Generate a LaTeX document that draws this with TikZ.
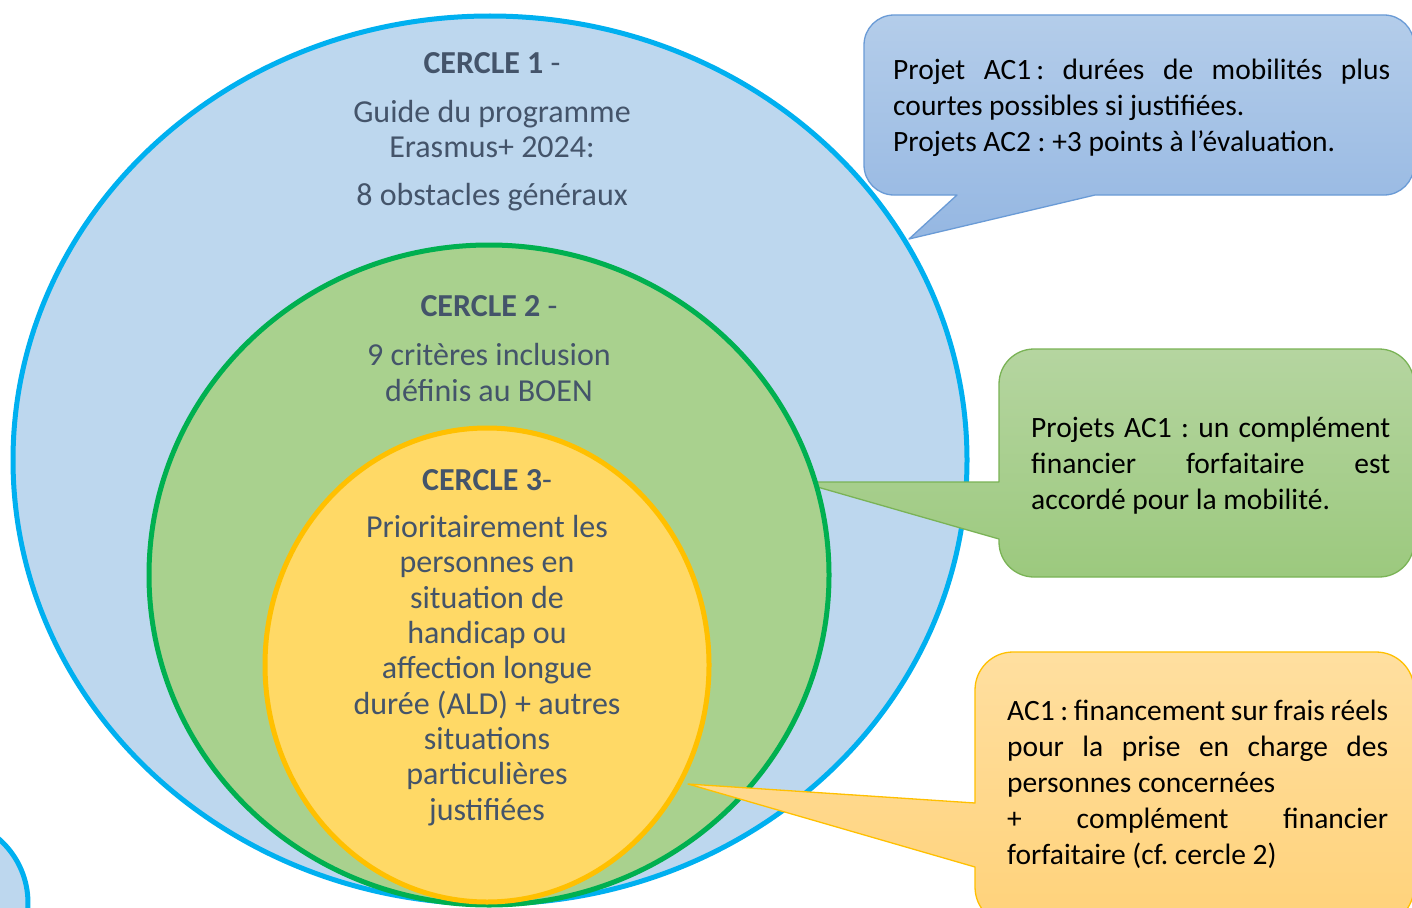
\documentclass[tikz,border=0pt]{standalone}
\usepackage{fontspec}
\setmainfont{Carlito}
\definecolor{fondbleu}{HTML}{BDD7EE}
\definecolor{traitbleu}{HTML}{00B0F0}
\definecolor{fondvert}{HTML}{A9D18E}
\definecolor{traitvert}{HTML}{00B050}
\definecolor{fondjaune}{HTML}{FFD966}
\definecolor{traitjaune}{HTML}{FFC000}
\definecolor{ardoise}{HTML}{44546A}
\begin{document}
\frenchspacing
\begin{tikzpicture}[x=1pt, y=-1pt, line join=round,
    cercle/.style={line width=5pt},
    circtext/.style={inner sep=0, anchor=base, text=ardoise, align=center, font=\fontsize{32}{35.3}\selectfont},
    bulle/.style={line width=1.3pt},
    bulletext/.style={inner sep=0, anchor=base west, align=justify, font=\fontsize{29.5}{36}\selectfont}]
\clip (0,0) rectangle (1412,907);
\fill[white] (0,0) rectangle (1412,907);

\draw[cercle, fill=fondbleu, draw=traitbleu] (490,460) ellipse [x radius=477, y radius=444];
\draw[cercle, fill=fondbleu, draw=traitbleu] (-57,903) circle [radius=85];

\shade[bulle, top color={rgb,255:red,180;green,205;blue,234}, bottom color={rgb,255:red,149;green,183;blue,226}, draw={rgb,255:red,106;green,155;blue,214}]
    (1200,15) [rounded corners=30pt] -- (864,15) -- (864,195) [sharp corners] -- (957,195) -- (909,239) -- (1095,195) [rounded corners=30pt] -- (1414,195) -- (1414,15) -- cycle;
\shade[bulle, top color={rgb,255:red,181;green,213;blue,160}, bottom color={rgb,255:red,156;green,201;blue,126}, draw={rgb,255:red,122;green,179;blue,86}]
    (1200,349) [rounded corners=35pt] -- (999,349) [sharp corners] -- (999,482) -- (800,482) -- (999,539) [rounded corners=35pt] -- (999,577) -- (1414,577) -- (1414,349) -- cycle;

\draw[cercle, fill=fondvert, draw=traitvert] (489,575) ellipse [x radius=340, y radius=330];
\draw[cercle, fill=fondjaune, draw=traitjaune] (487,665) ellipse [x radius=222, y radius=237];

\shade[bulle, top color={rgb,255:red,255;green,223;blue,160}, bottom color={rgb,255:red,255;green,210;blue,122}, draw=traitjaune]
    (1200,652) [rounded corners=38pt] -- (975,652) [sharp corners] -- (975,803) -- (688,784) -- (975,867) [rounded corners=38pt] -- (975,925) -- (1414,925) -- (1414,652) -- cycle;

\node[circtext] (cercle1) at (492,205) {\textbf{CERCLE 1} -\\[14pt] Guide du programme\\ Erasmus+ 2024:\\[12pt] 8 obstacles généraux};
\node[circtext] (cercle2) at (489,401) {\textbf{CERCLE 2} -\\[14pt] 9 critères inclusion\\ définis au BOEN};
\node[circtext] (cercle3) at (487,820) {\textbf{CERCLE 3}-\\[12pt] Prioritairement les\\ personnes en\\ situation de\\ handicap ou\\ affection longue\\ durée (ALD) + autres\\ situations\\ particulières\\ justifiées};

\node[bulletext, text width=497pt] (note1) at (893,79) {Projet AC1\,: durées de mobilités plus\linebreak courtes possibles si justifiées.\\ Projets AC2 : +3 points à l’évaluation.};
\node[bulletext, text width=359pt] (note2) at (1031,437) {Projets AC1~: un complément\linebreak financier forfaitaire est\linebreak accordé pour la mobilité.};
\node[bulletext, text width=381pt] (note3) at (1007,720) {AC1~: financement sur frais réels\linebreak pour la prise en charge des\linebreak personnes concernées\\ + complément financier\linebreak forfaitaire (cf. cercle 2)};
\end{tikzpicture}
\end{document}
